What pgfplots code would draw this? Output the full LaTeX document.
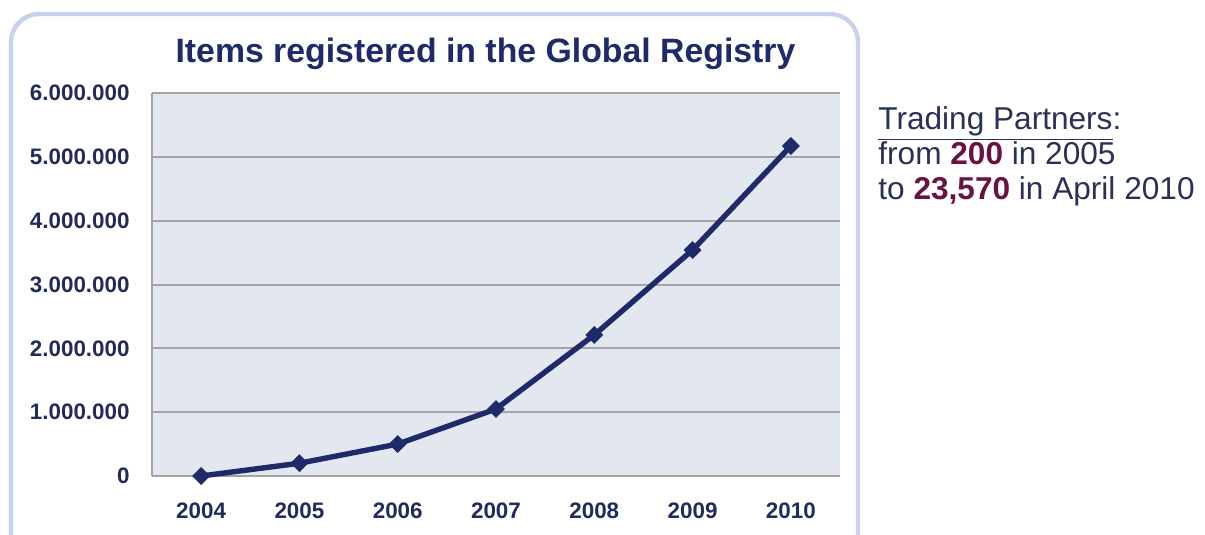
\documentclass[border=0pt]{standalone}
\usepackage{pgfplots}
\pgfplotsset{compat=1.18}
\usepackage{fontspec}
\setmainfont{Liberation Sans}
\definecolor{navy}{HTML}{1F2A6B}
\definecolor{ticknavy}{HTML}{222B5C}
\definecolor{plotbg}{HTML}{E2E7F0}
\definecolor{gridgray}{HTML}{A3A3A6}
\definecolor{boxblue}{HTML}{C8D2EA}
\definecolor{sidetext}{HTML}{283258}
\definecolor{maroon}{HTML}{6A1240}
\begin{document}
\begin{tikzpicture}
\begin{scope}[x=0.5pt,y=0.5pt]
\useasboundingbox (0,0) rectangle (1205,535);
\fill[white] (0,0) rectangle (1205,535);
\draw[boxblue, line width=2.2pt, rounded corners=14pt] (11,-30) rectangle (858,521);
\node[anchor=base, font=\fontsize{16.9}{18}\selectfont\bfseries, text=navy, inner sep=0pt] at (485.5,472) {Items registered in the Global Registry};
\end{scope}
\begin{axis}[
  at={(76pt,29.5pt)}, anchor=south west,
  scale only axis, width=344pt, height=191.5pt,
  xmin=2003.5, xmax=2010.5, ymin=0, ymax=6000000,
  xtick={2004,2005,2006,2007,2008,2009,2010},
  xticklabels={2004,2005,2006,2007,2008,2009,2010},
  ytick={0,1000000,2000000,3000000,4000000,5000000,6000000},
  yticklabels={0,1.000.000,2.000.000,3.000.000,4.000.000,5.000.000,6.000.000},
  axis x line*=bottom, axis y line*=left,
  axis line style={gridgray, line width=1pt, -},
  major tick length=0pt,
  ymajorgrids, grid style={gridgray, line width=1pt},
  axis background/.style={fill=plotbg},
  tick label style={font=\fontsize{11.2}{12}\selectfont\bfseries, text=ticknavy, inner sep=0pt},
  yticklabel style={anchor=east, xshift=-11pt},
  xticklabel style={anchor=north, yshift=-13pt},
  scaled y ticks=false,
  clip=false,
]
\addplot[navy, line width=2.7pt, mark=square*, mark size=2.9pt, mark options={fill=navy, draw=navy, line width=0.5pt, rotate=45}]
  coordinates {(2004,0) (2005,200000) (2006,500000) (2007,1050000) (2008,2210000) (2009,3540000) (2010,5170000)};
\end{axis}
\begin{scope}[x=0.5pt,y=0.5pt]
\node[anchor=base west, inner sep=0pt, font=\fontsize{15.8}{17}\selectfont, text=sidetext] at (878,405) {\underline{Trading Partners}:};
\node[anchor=base west, inner sep=0pt, font=\fontsize{15.8}{17}\selectfont, text=sidetext] at (878,370) {from \textbf{\textcolor{maroon}{200}} in 2005};
\node[anchor=base west, inner sep=0pt, font=\fontsize{15.8}{17}\selectfont, text=sidetext] at (878,335) {to \textbf{\textcolor{maroon}{23,570}} in April 2010};
\end{scope}
\end{tikzpicture}
\end{document}
